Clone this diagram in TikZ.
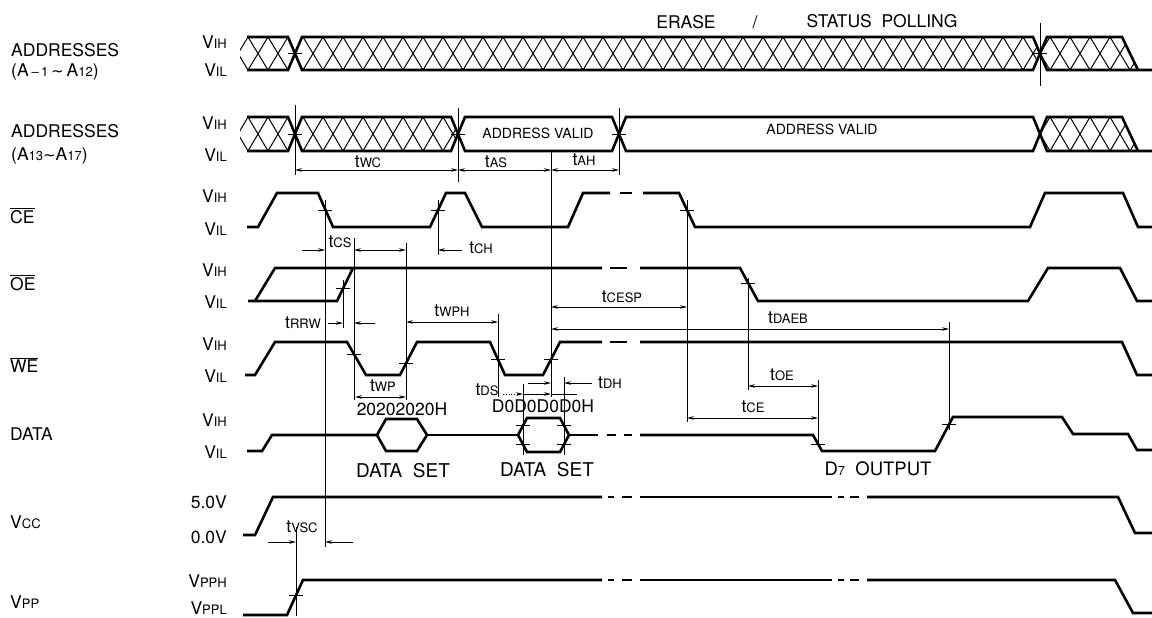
\documentclass[tikz,border=0pt]{standalone}
\usepackage{fontspec}
\setmainfont{TeX Gyre Heros}
\newfontfamily\dvs{DejaVu Sans}
\usetikzlibrary{arrows.meta}
\newcommand{\sm}[1]{{\fontsize{13}{13}\selectfont #1}}
\newcommand{\ts}[1]{t\sm{#1}}
\newcommand{\hatchrow}[4]{%
  \foreach \k in {0,...,#4} {
    \draw[hat] ({#1+20*\k},#2) -- ({#1+20*\k+20},#3);
    \draw[hat] ({#1+20*\k},#3) -- ({#1+20*\k+20},#2);
  }}
\newcommand{\tk}[2]{\draw[tickline] ({#1-7},#2) -- ({#1+7},#2);}
\begin{document}
\begin{tikzpicture}[x=1pt,y=-1pt,
  font=\fontsize{17.5}{17.5}\selectfont,
  sig/.style={line width=2.6pt},
  hat/.style={line width=1pt},
  refl/.style={line width=0.8pt},
  tickline/.style={line width=0.8pt},
  dimab/.style={line width=0.8pt,{Stealth[length=7pt,width=3.5pt]}-{Stealth[length=7pt,width=3.5pt]}},
  dimto/.style={line width=0.8pt,-{Stealth[length=7pt,width=3.5pt]}},
  txt/.style={inner sep=0pt,anchor=base},
  lft/.style={inner sep=0pt,anchor=base west},
  lvl/.style={inner sep=0pt,anchor=base east}]
\useasboundingbox (0,0) rectangle (1152,618);
\fill[white] (0,0) rectangle (1152,618);

% ---------- left labels ----------
\node[lft] (n1) at (11,57) {ADDRESSES};
\node[lft] (n2) at (11,77) {(A\,\sm{–\,1}\,{\dvs\fontsize{15}{15}\selectfont ∼}\,A\sm{12})};
\node[lft] (n3) at (11,137) {ADDRESSES};
\node[lft] (n4) at (11,160) {(A\sm{13}{\dvs\fontsize{15}{15}\selectfont ∼}A\sm{17})};
\node[lft] (n5) at (10,223) {$\overline{\hbox{CE}}$};
\node[lft] (n6) at (10,290) {$\overline{\hbox{OE}}$};
\node[lft] (n7) at (10,372) {$\overline{\hbox{WE}}$};
\node[lft] (n8) at (10,440) {DATA};
\node[lft] (n9) at (10,528) {V\sm{CC}};
\node[lft] (n10) at (10,608) {V\sm{PP}};

% ---------- level labels ----------
\node[lvl] (v1h) at (227,49) {V\sm{IH}};
\node[lvl] (v1l) at (227,77) {V\sm{IL}};
\node[lvl] (v2h) at (227,129) {V\sm{IH}};
\node[lvl] (v2l) at (227,161) {V\sm{IL}};
\node[lvl] (v3h) at (227,202) {V\sm{IH}};
\node[lvl] (v3l) at (227,235) {V\sm{IL}};
\node[lvl] (v4h) at (227,276) {V\sm{IH}};
\node[lvl] (v4l) at (227,308) {V\sm{IL}};
\node[lvl] (v5h) at (227,350) {V\sm{IH}};
\node[lvl] (v5l) at (227,382) {V\sm{IL}};
\node[lvl] (v6h) at (227,426) {V\sm{IH}};
\node[lvl] (v6l) at (227,458) {V\sm{IL}};
\node[lvl] (v7h) at (227,508) {5.0V};
\node[lvl] (v7l) at (227,543) {0.0V};
\node[lvl] (v8h) at (227,587) {V\sm{PPH}};
\node[lvl] (v8l) at (227,614) {V\sm{PPL}};

% ---------- row 1 bus ----------
\begin{scope}\clip (240,37)--(288,37)--(295,53.5)--(288,70)--(240,70)--cycle; \hatchrow{228}{37}{70}{3}\end{scope}
\begin{scope}\clip (295,53.5)--(302,37)--(1033,37)--(1040,53.5)--(1033,70)--(302,70)--cycle; \hatchrow{283}{37}{70}{38}\end{scope}
\begin{scope}\clip (1040,53.5)--(1047,37)--(1122,37)--(1138,70)--(1047,70)--cycle; \hatchrow{1030}{37}{70}{6}\end{scope}
\draw[sig] (247,37)--(288,37)--(295,53.5)--(288,70)--(247,70);
\draw[sig] (295,53.5)--(302,37)--(1033,37)--(1040,53.5)--(1033,70)--(302,70)--cycle;
\draw[sig] (1040,53.5)--(1047,37)--(1122,37)--(1138,70);
\draw[sig] (1040,53.5)--(1047,70)--(1152,70);
\node[txt] (er) at (686,29) {ERASE};
\node[txt] (sl) at (755,29) {/};
\node[txt] (sp) at (882,28) {STATUS\ \ POLLING};

% ---------- row 2 bus ----------
\begin{scope}\clip (240,117)--(288,117)--(295,134)--(288,151)--(240,151)--cycle; \hatchrow{228}{117}{151}{3}\end{scope}
\begin{scope}\clip (295,134)--(302,117)--(451,117)--(458,134)--(451,151)--(302,151)--cycle; \hatchrow{283}{117}{151}{9}\end{scope}
\begin{scope}\clip (1040,134)--(1047,117)--(1122,117)--(1138,151)--(1047,151)--cycle; \hatchrow{1030}{117}{151}{6}\end{scope}
\draw[sig] (247,117)--(288,117)--(295,134)--(288,151)--(247,151);
\draw[sig] (295,134)--(302,117)--(451,117)--(458,134)--(451,151)--(302,151)--cycle;
\draw[sig] (458,134)--(465,117)--(612,117)--(619,134)--(612,151)--(465,151)--cycle;
\draw[sig] (619,134)--(626,117)--(1033,117)--(1040,134)--(1033,151)--(626,151)--cycle;
\draw[sig] (1040,134)--(1047,117)--(1122,117)--(1138,151);
\draw[sig] (1040,134)--(1047,151)--(1152,151);
\node[txt,font=\fontsize{14}{14}\selectfont] (av1) at (538,138) {ADDRESS\ VALID};
\node[txt,font=\fontsize{14}{14}\selectfont] (av2) at (822,135) {ADDRESS\ VALID};

% ---------- CE ----------
\draw[sig] (247,227)--(258,227)--(277,193)--(318,193)--(333,227)--(430,227)--(446,193)--(465,193)--(482,227)--(568,227)--(583,193)--(610,193);
\draw[sig] (620,193)--(632,193);
\draw[sig] (643,193)--(679,193)--(695,227)--(1030,227)--(1045,193)--(1123,193)--(1138,227)--(1152,227);

% ---------- OE ----------
\draw[sig] (248,301)--(337,301)--(353,268);
\draw[sig] (255,301)--(275,268)--(602,268);
\draw[sig] (610,268)--(627,268);
\draw[sig] (640,268)--(740,268)--(758,301)--(1028,301)--(1048,268)--(1120,268)--(1137,301)--(1152,301);

% ---------- WE ----------
\draw[sig] (245,375)--(255,375)--(275,342)--(347,342)--(366,375)--(400,375)--(417,342)--(490,342)--(505,375)--(543,375)--(560,342)--(602,342);
\draw[sig] (610,342)--(627,342);
\draw[sig] (640,342)--(1122,342)--(1137,375)--(1152,375);

% ---------- DATA ----------
\draw[sig] (247,451)--(262,451)--(272,435)--(377,435);
\draw[sig] (377,435)--(386,419)--(417,419)--(427,435)--(417,451)--(386,451)--cycle;
\draw[sig] (427,435)--(518,435);
\draw[sig] (518,435)--(527,418)--(560,418)--(569,435)--(560,452)--(527,452)--cycle;
\draw[sig] (569,435)--(598,435);
\draw[sig] (607,435)--(616,435);
\draw[sig] (624,435)--(632,435);
\draw[sig] (640,435)--(813,435)--(822,451)--(935,451)--(953,417)--(1062,417)--(1073,434)--(1128,434)--(1137,450)--(1152,450);
\node[txt,font=\fontsize{19}{19}\selectfont] (ds1) at (403,477) {DATA\ \ SET};
\node[txt,font=\fontsize{19}{19}\selectfont] (ds2) at (547,476) {DATA\ \ SET};
\node[txt,font=\fontsize{18.5}{18.5}\selectfont] (d7) at (878,475) {D\sm{7}\ \ OUTPUT};
\node[txt] (h20) at (402,415) {20202020H};
\node[txt] (hd0) at (543,412) {D0D0D0D0H};

% ---------- VCC ----------
\draw[sig] (243,535)--(255,535)--(273,497)--(602,497);
\draw[sig] (608,497)--(614,497);
\draw[sig] (622,497)--(632,497);
\draw[sig] (640,497)--(832,497);
\draw[sig] (838,497)--(844,497);
\draw[sig] (850,497)--(859,497);
\draw[sig] (867,497)--(1118,497)--(1135,533)--(1152,533);

% ---------- VPP ----------
\draw[sig] (243,615)--(287,615)--(303,580)--(602,580);
\draw[sig] (608,580)--(614,580);
\draw[sig] (622,580)--(632,580);
\draw[sig] (640,580)--(832,580);
\draw[sig] (838,580)--(844,580);
\draw[sig] (850,580)--(859,580);
\draw[sig] (867,580)--(1115,580)--(1133,613)--(1152,613);

% ---------- ticks ----------
\tk{295}{53.5}\tk{1040}{53.5}
\tk{295}{134}\tk{458}{134}\tk{619}{134}
\tk{325}{210}\tk{438}{210}\tk{687}{210}
\tk{343}{288}\tk{748}{283}
\tk{354}{354}\tk{406}{363}\tk{498}{359}\tk{551}{359}
\tk{523}{425.6}\tk{523}{444.4}\tk{564}{425.6}\tk{564}{444.4}
\tk{818}{444}\tk{949}{424.6}
\tk{296}{595}

% ---------- reference lines ----------
\draw[refl] (295,105)--(295,175);
\draw[refl] (458,108)--(458,182);
\draw[refl] (619,108)--(619,175);
\draw[refl] (1040,23)--(1040,86);
\draw[refl] (325,200)--(325,547);
\draw[refl] (438,200)--(438,255);
\draw[refl] (687,200)--(687,422);
\draw[refl] (343,280)--(343,328);
\draw[refl] (354,238)--(354,400);
\draw[refl] (406,243)--(406,400);
\draw[refl] (498,314)--(498,397);
\draw[refl] (551,152)--(551,397);
\draw[refl] (523,384)--(523,455);
\draw[refl] (564,377)--(564,455);
\draw[refl] (748,278)--(748,390);
\draw[refl] (818,380)--(818,447);
\draw[refl] (949,322)--(949,430);
\draw[refl] (296,527)--(296,616);

% ---------- dimensions ----------
\draw[dimab] (295,170)--(458,170);
\draw[dimab] (458,170)--(551,170);
\draw[dimab] (551,170)--(619,170);
\node[txt] (twc) at (368,167) {\ts{WC}};
\node[txt] (tas) at (496,167) {\ts{AS}};
\node[txt] (tah) at (584,165) {\ts{AH}};

\draw[dimto] (302,250)--(325,250);
\draw[dimab] (354,250)--(406,250);
\draw[dimto] (462,250)--(438,250);
\node[txt] (tcs) at (340,247) {\ts{CS}};
\node[txt] (tch) at (481,253) {\ts{CH}};

\draw[dimto] (328,323)--(343,323);
\draw[dimto] (375,323)--(354,323);
\node[txt] (trrw) at (303,328) {\ts{RRW}};
\draw[dimab] (406,322)--(498,322);
\node[txt] (twph) at (452,316) {\ts{WPH}};

\draw[dimab] (355,397)--(406,397);
\node[txt] (twp) at (383,391) {\ts{WP}};

\draw[line width=0.8pt,dotted,-{Stealth[length=7pt,width=3.5pt]}] (503,394)--(523,394);
\draw[dimto] (523,394)--(551,394);
\draw[refl] (551,394)--(577,394);
\node[txt] (tds) at (487,395) {\ts{DS}};
\draw[dimto] (528,383)--(551,383);
\draw[dimto] (592,383)--(564,383);
\node[txt] (tdh) at (610,388) {\ts{DH}};

\draw[dimab] (551,307)--(687,307);
\node[txt] (tcesp) at (622,302) {\ts{CESP}};
\draw[dimab] (551,329)--(949,329);
\node[txt] (tdaeb) at (788,323) {\ts{DAEB}};
\draw[dimab] (748,386)--(818,386);
\node[txt] (toe) at (782,380) {\ts{OE}};
\draw[dimab] (687,418)--(818,418);
\node[txt] (tce) at (753,412) {\ts{CE}};

\draw[dimto] (268,542)--(296,542);
\draw[dimto] (353,542)--(325,542);
\node[txt] (tvsc) at (302,532) {\ts{VSC}};
\end{tikzpicture}
\end{document}
